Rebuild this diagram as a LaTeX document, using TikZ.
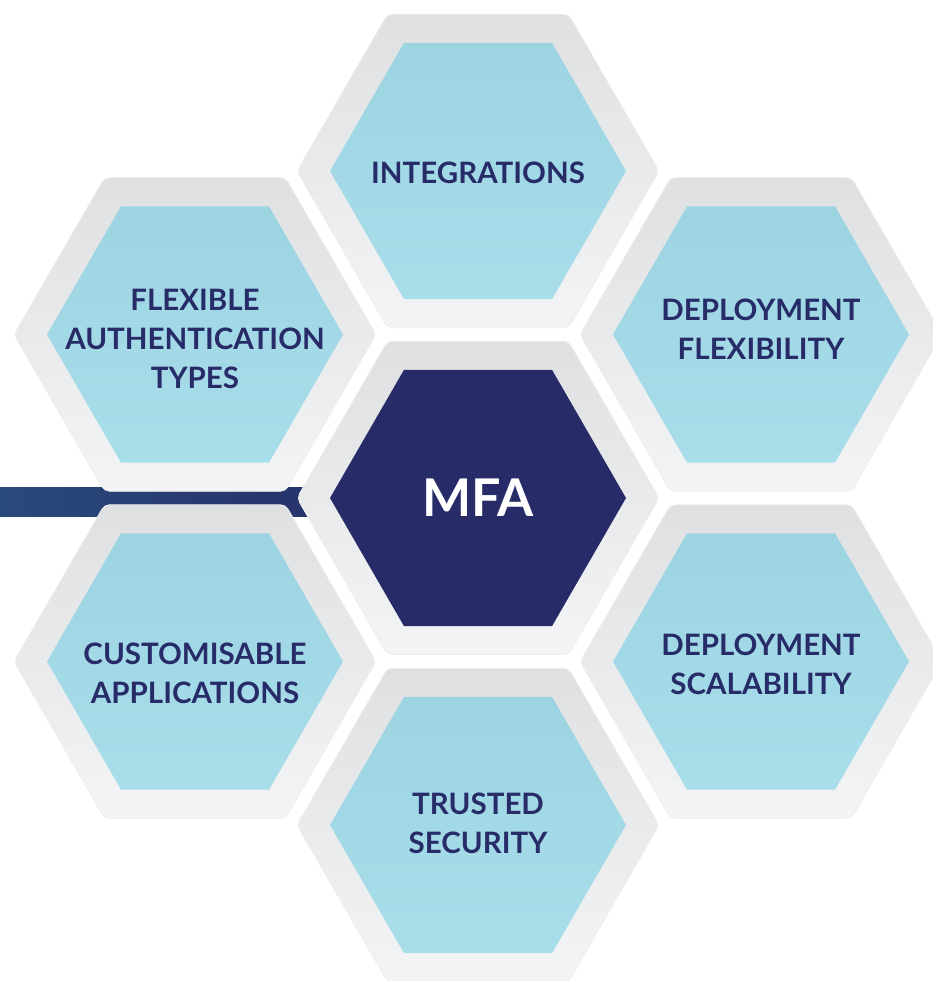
\documentclass[tikz,border=0pt]{standalone}
\usepackage{fontspec}
\setmainfont{Lato}
\usetikzlibrary{shapes.geometric}
\definecolor{mfanavy}{RGB}{39,44,104}
\definecolor{barblue}{RGB}{40,74,122}
\definecolor{cellblue}{RGB}{157,212,226}
\definecolor{cellbluelt}{RGB}{168,222,234}
\definecolor{rimgrey}{RGB}{223,224,226}
\definecolor{rimgreylt}{RGB}{243,244,245}

\begin{document}
\begin{tikzpicture}[x=1pt,y=-1pt,
  rim/.style={regular polygon,regular polygon sides=6,minimum size=362pt,inner sep=0pt,rounded corners=5pt,top color=rimgrey,bottom color=rimgreylt,draw=black!7,line width=0.8pt},
  cell/.style={regular polygon,regular polygon sides=6,minimum size=296pt,inner sep=0pt,top color=cellblue,bottom color=cellbluelt},
  lbl/.style={align=center,font=\bfseries\fontsize{29.5}{39}\selectfont,text=mfanavy}]
\useasboundingbox (0,0) rectangle (932,981);
% bar running in from the left
\fill[left color=barblue,right color=mfanavy] (0,487) rectangle (400,516);
% grey rims
\node[rim] (r0) at (478,498) {};
\node[rim] (r1) at (478,171) {};
\node[rim] (r2) at (761,334.5) {};
\node[rim] (r3) at (761,661.5) {};
\node[rim] (r4) at (478,825) {};
\node[rim] (r5) at (195,661.5) {};
\node[rim] (r6) at (195,334.5) {};
% cells
\node[cell,top color=mfanavy,bottom color=mfanavy] (mfa) at (r0) {};
\node[cell] (intg) at (r1) {};
\node[cell] (dflex) at (r2) {};
\node[cell] (dscal) at (r3) {};
\node[cell] (trust) at (r4) {};
\node[cell] (custom) at (r5) {};
\node[cell] (fauth) at (r6) {};
% labels
\node[lbl,text=white,font=\bfseries\fontsize{52}{60}\selectfont] at (mfa) {MFA};
\node[lbl] at ([yshift=-2pt]intg) {INTEGRATIONS};
\node[lbl] at ([yshift=5pt]dflex) {DEPLOYMENT\\FLEXIBILITY};
\node[lbl] at ([yshift=-3pt]dscal) {DEPLOYMENT\\SCALABILITY};
\node[lbl] at ([yshift=1.5pt]trust) {TRUSTED\\SECURITY};
\node[lbl] at ([yshift=-12pt]custom) {CUSTOMISABLE\\APPLICATIONS};
\node[lbl] at ([yshift=-4.5pt]fauth) {FLEXIBLE\\AUTHENTICATION\\TYPES};
\end{tikzpicture}
\end{document}
